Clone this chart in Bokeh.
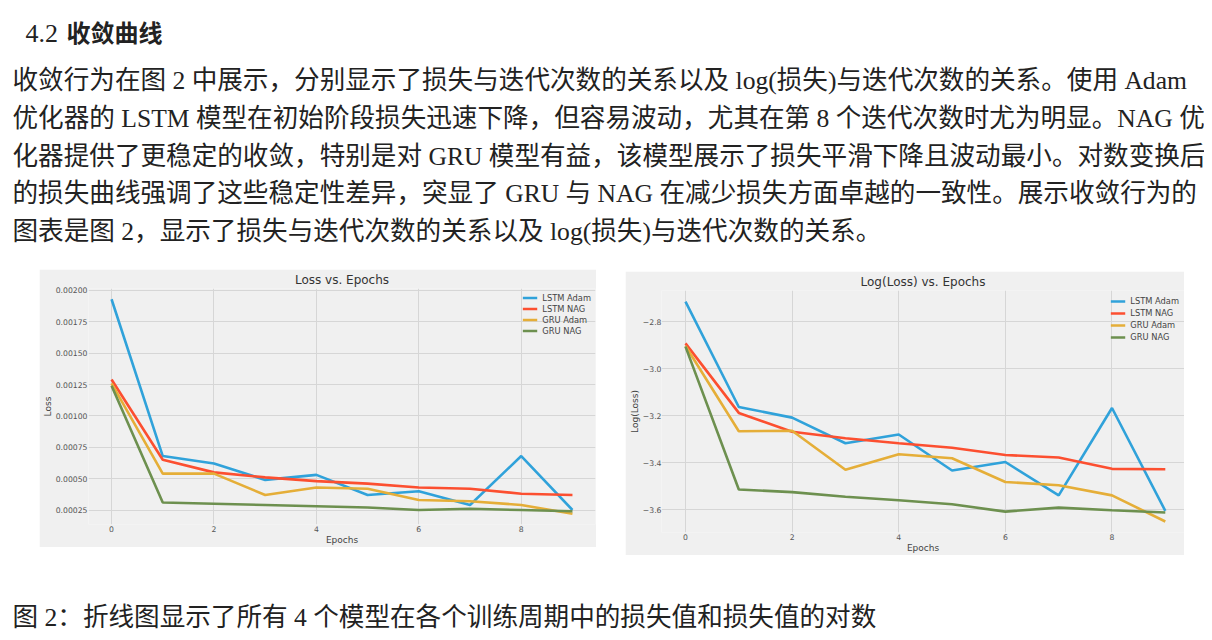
from bokeh.plotting import figure
from bokeh.models import (Range1d, SingleIntervalTicker, PrintfTickFormatter,
                          CustomJSTickFormatter, Spacer)
from bokeh.layouts import column, row
from bokeh.core.properties import value
from bokeh.embed import file_html
from bokeh.resources import INLINE

# ---------------- data ----------------
epochs = [0, 1, 2, 3, 4, 5, 6, 7, 8, 9]
series_names = ["LSTM Adam", "LSTM NAG", "GRU Adam", "GRU NAG"]
series_colors = ["#30a2da", "#fc4f30", "#e5ae38", "#6d904f"]

loss_lstm_adam = [0.00193, 0.00068, 0.00062, 0.00049, 0.00053, 0.00037, 0.00040, 0.00029, 0.00068, 0.00025]
loss_lstm_nag = [0.00129, 0.00065, 0.00055, 0.00051, 0.00048, 0.00046, 0.00043, 0.00042, 0.00038, 0.00037]
loss_gru_adam = [0.00126, 0.00054, 0.00054, 0.00037, 0.00043, 0.00042, 0.00033, 0.00032, 0.00029, 0.00022]
loss_gru_nag = [0.00124, 0.00031, 0.00030, 0.00029, 0.00028, 0.00027, 0.00025, 0.00026, 0.00025, 0.00024]

log_lstm_adam = [-2.713, -3.162, -3.207, -3.316, -3.279, -3.432, -3.396, -3.538, -3.166, -3.604]
log_lstm_nag = [-2.891, -3.187, -3.267, -3.295, -3.316, -3.335, -3.366, -3.377, -3.425, -3.427]
log_gru_adam = [-2.902, -3.265, -3.263, -3.429, -3.363, -3.380, -3.481, -3.495, -3.538, -3.649]
log_gru_nag = [-2.905, -3.513, -3.524, -3.544, -3.559, -3.576, -3.607, -3.590, -3.601, -3.611]

heading_number = "4.2"
heading_title = "收敛曲线"
paragraph_lines = [
    "收敛行为在图 2 中展示，分别显示了损失与迭代次数的关系以及 log(损失)与迭代次数的关系。使用 Adam",
    "优化器的 LSTM 模型在初始阶段损失迅速下降，但容易波动，尤其在第 8 个迭代次数时尤为明显。NAG 优",
    "化器提供了更稳定的收敛，特别是对 GRU 模型有益，该模型展示了损失平滑下降且波动最小。对数变换后",
    "的损失曲线强调了这些稳定性差异，突显了 GRU 与 NAG 在减少损失方面卓越的一致性。展示收敛行为的",
    "图表是图 2，显示了损失与迭代次数的关系以及 log(损失)与迭代次数的关系。",
]
caption_text = "图 2：折线图显示了所有 4 个模型在各个训练周期中的损失值和损失值的对数"

PAGE_FONT = "'Liberation Serif', 'Noto Sans CJK SC'"
CJK_BOLD = "'Noto Sans CJK SC'"
CHART_FONT = "DejaVu Sans"
TEXT_COLOR = "#222222"
PANEL = "#f0f0f0"
PAGE_W = 1204


def blank_fig(h, y_top):
    f = figure(width=PAGE_W, height=h, x_range=Range1d(0, PAGE_W),
               y_range=Range1d(y_top + h, y_top),
               toolbar_location=None, output_backend="svg", min_border=0,
               x_axis_location=None, y_axis_location=None)
    f.grid.visible = False
    f.outline_line_color = None
    f.background_fill_color = "white"
    f.border_fill_color = "white"
    return f


# ---------------- header text ----------------
hdr = blank_fig(269, 0)
hdr.text(x=[25], y=[33], text=[heading_number], text_font=value(PAGE_FONT),
         text_font_size="26px", text_baseline="middle", text_color=TEXT_COLOR)
hdr.text(x=[66], y=[31], text=[heading_title], text_font=value(CJK_BOLD),
         text_font_size="24px", text_font_style="bold", text_baseline="middle",
         text_color=TEXT_COLOR)
hdr.text(x=[12] * len(paragraph_lines),
         y=[80 + 37.8 * i for i in range(len(paragraph_lines))],
         text=paragraph_lines, text_font=value(PAGE_FONT), text_font_size="25.6px",
         text_baseline="middle", text_color=TEXT_COLOR)


# ---------------- charts ----------------
def style_chart(p, legend_pad, legend_row):
    p.background_fill_color = PANEL
    p.border_fill_color = PANEL
    p.outline_line_color = None
    p.grid.grid_line_color = "#d6d6d6"
    p.grid.grid_line_width = 1
    for ax in p.axis:
        ax.axis_line_color = None
        ax.major_tick_line_color = None
        ax.minor_tick_line_color = None
        ax.major_tick_out = 0
        ax.major_tick_in = 0
        ax.minor_tick_out = 0
        ax.minor_tick_in = 0
        ax.major_label_text_font = CHART_FONT
        ax.major_label_text_font_size = "7.7px"
        ax.major_label_text_color = "#555555"
        ax.axis_label_text_font = CHART_FONT
        ax.axis_label_text_font_size = "9px"
        ax.axis_label_text_font_style = "normal"
        ax.axis_label_text_color = "#444444"
    p.title.text_font = CHART_FONT
    p.title.text_font_size = "12px"
    p.title.text_font_style = "normal"
    p.title.text_color = "#333333"
    p.title.align = "center"
    p.title.standoff = 3
    lg = p.legend[0]
    lg.location = "top_right"
    lg.margin = 0
    lg.padding = legend_pad
    lg.spacing = 0
    lg.glyph_width = 15
    lg.glyph_height = legend_row
    lg.label_height = legend_row
    lg.label_standoff = 5
    lg.label_text_font = CHART_FONT
    lg.label_text_font_size = "8.3px"
    lg.label_text_color = "#444444"
    lg.background_fill_alpha = 0
    lg.border_line_alpha = 0


# left: Loss vs. Epochs
p1 = figure(width=557, height=278, title="Loss vs. Epochs",
            x_range=Range1d(-0.45, 9.45), y_range=Range1d(0.0001345, 0.0020155),
            toolbar_location=None, output_backend="svg",
            min_border_left=49, min_border_right=1, min_border_top=19, min_border_bottom=22)
for ys, name, col in zip([loss_lstm_adam, loss_lstm_nag, loss_gru_adam, loss_gru_nag],
                         series_names, series_colors):
    p1.line(epochs, ys, line_color=col, line_width=2.6, legend_label=name)
p1.xaxis.ticker = SingleIntervalTicker(interval=2, num_minor_ticks=0)
p1.yaxis.ticker = SingleIntervalTicker(interval=0.00025, num_minor_ticks=0)
p1.yaxis.formatter = PrintfTickFormatter(format="%.5f")
p1.xaxis.axis_label = "Epochs"
p1.yaxis.axis_label = "Loss"
style_chart(p1, 4, 11)
p1.xaxis.major_label_standoff = 1
p1.xaxis.axis_label_standoff = 0
p1.yaxis.major_label_standoff = 1
p1.yaxis.axis_label_standoff = 0

# right: Log(Loss) vs. Epochs
p2 = figure(width=559, height=284, title="Log(Loss) vs. Epochs",
            x_range=Range1d(-0.45, 9.36), y_range=Range1d(-3.696, -2.666),
            toolbar_location=None, output_backend="svg",
            min_border_left=36, min_border_right=0, min_border_top=18, min_border_bottom=21)
for ys, name, col in zip([log_lstm_adam, log_lstm_nag, log_gru_adam, log_gru_nag],
                         series_names, series_colors):
    p2.line(epochs, ys, line_color=col, line_width=2.6, legend_label=name)
p2.xaxis.ticker = SingleIntervalTicker(interval=2, num_minor_ticks=0)
p2.yaxis.ticker = SingleIntervalTicker(interval=0.2, num_minor_ticks=0)
p2.yaxis.formatter = CustomJSTickFormatter(
    code="return (tick < 0 ? '\u2212' : '') + Math.abs(tick).toFixed(1);")
p2.xaxis.axis_label = "Epochs"
p2.yaxis.axis_label = "Log(Loss)"
style_chart(p2, 5, 12)
p2.xaxis.major_label_standoff = 1
p2.xaxis.axis_label_standoff = 0
p2.yaxis.major_label_standoff = 0
p2.yaxis.axis_label_standoff = 0

charts = row(Spacer(width=39, height=286), p1, Spacer(width=29, height=286),
             column(Spacer(width=559, height=2), p2), Spacer(width=20, height=286))

# ---------------- caption ----------------
cap = blank_fig(77, 555)
cap.text(x=[12], y=[617], text=[caption_text], text_font=value(PAGE_FONT),
         text_font_size="25.6px", text_baseline="middle", text_color=TEXT_COLOR)

page = column(hdr, charts, cap)
open("out.html", "w").write(file_html(page, INLINE))
